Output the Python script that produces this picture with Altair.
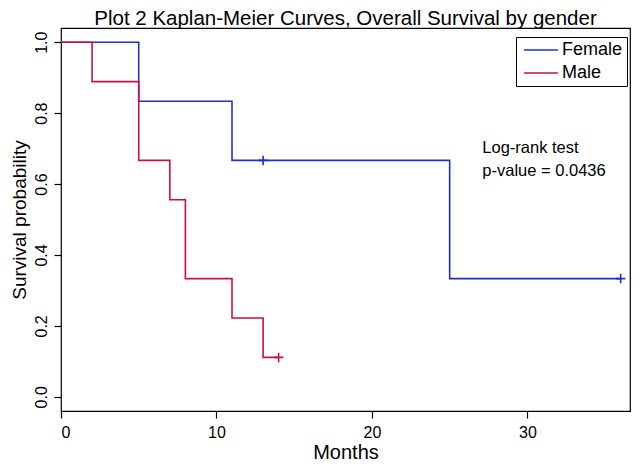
import altair as alt
import pandas as pd

# Kaplan-Meier step data
female_t = [0, 5, 11, 25, 36]
female_s = [1.0, 0.8333, 0.6667, 0.3333, 0.3333]
male_t = [0, 2, 5, 7, 8, 11, 13, 14]
male_s = [1.0, 0.8889, 0.6667, 0.5556, 0.3333, 0.2222, 0.1111, 0.1111]

# censoring marks
cens_group = ["Female", "Female", "Male"]
cens_t = [13, 36, 14]
cens_s = [0.6667, 0.3333, 0.1111]

groups = ["Female", "Male"]
colors = ["#1f2fcc", "#cc0f45"]

x_ticks = [0, 10, 20, 30]
y_ticks = [0.0, 0.2, 0.4, 0.6, 0.8, 1.0]

annot_text = ["Log-rank test", "p-value = 0.0436"]
annot_x = [27.1, 27.1]
annot_y = [0.701, 0.636]

steps = pd.DataFrame(
    {"group": ["Female"] * len(female_t) + ["Male"] * len(male_t),
     "t": female_t + male_t,
     "s": female_s + male_s}
)
cens = pd.DataFrame({"group": cens_group, "t": cens_t, "s": cens_s})
annot = pd.DataFrame({"label": annot_text, "t": annot_x, "s": annot_y})

FONT = "Liberation Sans"

xs = alt.Scale(domain=[0, 36.6], nice=False, zero=False)
ys = alt.Scale(domain=[-0.04, 1.04], nice=False, zero=False)
cs = alt.Scale(domain=groups, range=colors)

lines = alt.Chart(steps).mark_line(interpolate="step-after", strokeWidth=1.6).encode(
    x=alt.X("t:Q", scale=xs,
            axis=alt.Axis(title="Months", values=x_ticks, format="d", grid=False,
                          tickSize=7, labelPadding=6, titlePadding=2,
                          domain=False)),
    y=alt.Y("s:Q", scale=ys,
            axis=alt.Axis(title="Survival probability", values=y_ticks, format=".1f",
                          grid=False, tickSize=7, labelAngle=270, labelPadding=5,
                          titlePadding=4, titleFontSize=19, domain=False)),
    color=alt.Color("group:N", scale=cs,
                    legend=alt.Legend(title=None, orient="none", legendX=455, legendY=9,
                                      strokeColor="black", fillColor="white",
                                      padding=4, symbolType="M-0.625,0L3.625,0",
                                      symbolSize=256, symbolStrokeWidth=1.6,
                                      labelFontSize=18, labelFont=FONT,
                                      labelColor="black", rowPadding=5,
                                      labelOffset=24)),
)

marks = alt.Chart(cens).mark_point(
    shape="M-1,0L1,0M0,-1L0,1", filled=False, size=90, strokeWidth=1.6, opacity=1
).encode(
    x=alt.X("t:Q", scale=xs),
    y=alt.Y("s:Q", scale=ys),
    color=alt.Color("group:N", scale=cs, legend=None),
)

text = alt.Chart(annot).mark_text(
    align="left", baseline="middle", fontSize=16.5, font=FONT, color="black"
).encode(
    x=alt.X("t:Q", scale=xs),
    y=alt.Y("s:Q", scale=ys),
    text="label:N",
)

chart = alt.layer(lines, marks, text).properties(
    width=569,
    height=383,
    autosize="none",
    padding={"left": 53, "top": 20, "right": 2, "bottom": 50},
    title=alt.Title("Plot 2 Kaplan-Meier Curves, Overall Survival by gender",
                    fontSize=20.5, font=FONT, fontWeight="normal", color="black",
                    anchor="middle", offset=-1),
).configure(
    background="white"
).configure_view(
    stroke="black", strokeWidth=1.2
).configure_axis(
    labelFont=FONT, titleFont=FONT, labelFontSize=16, titleFontSize=20,
    titleFontWeight="normal", labelColor="black", titleColor="black",
    tickColor="black", tickWidth=1.2
)

chart.save("out.html", embed_options={"renderer": "svg", "actions": False})
